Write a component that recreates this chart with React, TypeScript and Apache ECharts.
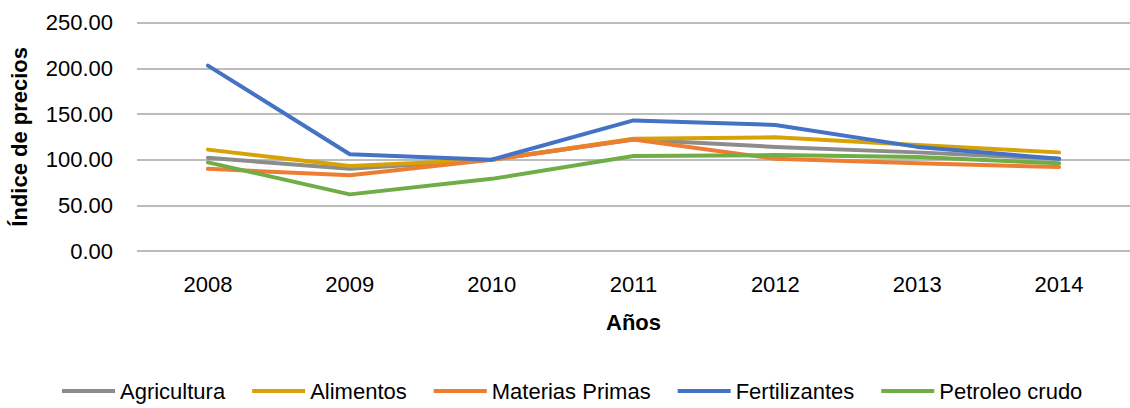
import React, { useEffect, useRef } from "react";
import * as echarts from "echarts";

const years = ["2008", "2009", "2010", "2011", "2012", "2013", "2014"];
const agricultura = [102, 90, 100, 122, 114, 108, 101];
const alimentos = [111, 93, 100, 123, 124.5, 116, 108];
const materiasPrimas = [90, 83, 100, 122, 101, 96, 92];
const fertilizantes = [203, 106, 100, 143, 138, 114, 101];
const petroleoCrudo = [97, 62, 79, 104, 105, 103, 96];

const seriesNames = ["Agricultura", "Alimentos", "Materias Primas", "Fertilizantes", "Petroleo crudo"];
const seriesData = [agricultura, alimentos, materiasPrimas, fertilizantes, petroleoCrudo];
const seriesColors = ["#8C8C8C", "#D6A206", "#ED7D31", "#4472C4", "#70AD47"];

const FONT = '"Liberation Sans Narrow", "Arial Narrow", "Liberation Sans", Arial, sans-serif';
const FS = 22;

export default function App() {
  const ref = useRef<HTMLDivElement>(null);
  useEffect(() => {
    if (!ref.current) return;
    const chart = echarts.init(ref.current, null, { renderer: "svg" });
    chart.setOption({
      animation: false,
      textStyle: { fontFamily: FONT, color: "#000" },
      grid: { left: 136, right: -7, top: 22.7, bottom: 157, containLabel: false },
      legend: {
        left: 62,
        top: 380,
        padding: 0,
        icon: "rect",
        itemWidth: 53,
        itemHeight: 4,
        itemGap: 27,
        textStyle: { fontFamily: FONT, fontSize: FS, color: "#000" },
        data: seriesNames,
      },
      xAxis: {
        type: "category",
        data: years,
        boundaryGap: true,
        name: "Años",
        nameLocation: "middle",
        nameGap: 60,
        nameTextStyle: { fontFamily: FONT, fontSize: FS, fontWeight: "bold", color: "#000" },
        axisLine: { show: false },
        axisTick: { show: false },
        axisLabel: { fontFamily: FONT, fontSize: FS, color: "#000", margin: 22 },
      },
      yAxis: {
        type: "value",
        min: 0,
        max: 250,
        interval: 50,
        name: "Índice de precios",
        nameLocation: "middle",
        nameGap: 107,
        nameRotate: 90,
        nameTextStyle: { fontFamily: FONT, fontSize: FS, fontWeight: "bold", color: "#000" },
        axisLine: { show: false },
        axisTick: { show: false },
        axisLabel: {
          fontFamily: FONT,
          fontSize: FS,
          color: "#000",
          margin: 24,
          formatter: (v: number) => v.toFixed(2),
        },
        splitLine: { lineStyle: { color: "#A6A6A6", width: 1.5 } },
      },
      series: seriesNames.map((name, i) => ({
        name,
        type: "line",
        data: seriesData[i],
        symbol: "none",
        color: seriesColors[i],
        lineStyle: { width: 4, color: seriesColors[i], cap: "round", join: "round" },
      })),
    });
    return () => chart.dispose();
  }, []);
  return (
    <div
      ref={ref}
      style={{ position: "fixed", left: 0, top: 0, width: 1130, height: 408, background: "#fff" }}
    />
  );
}
